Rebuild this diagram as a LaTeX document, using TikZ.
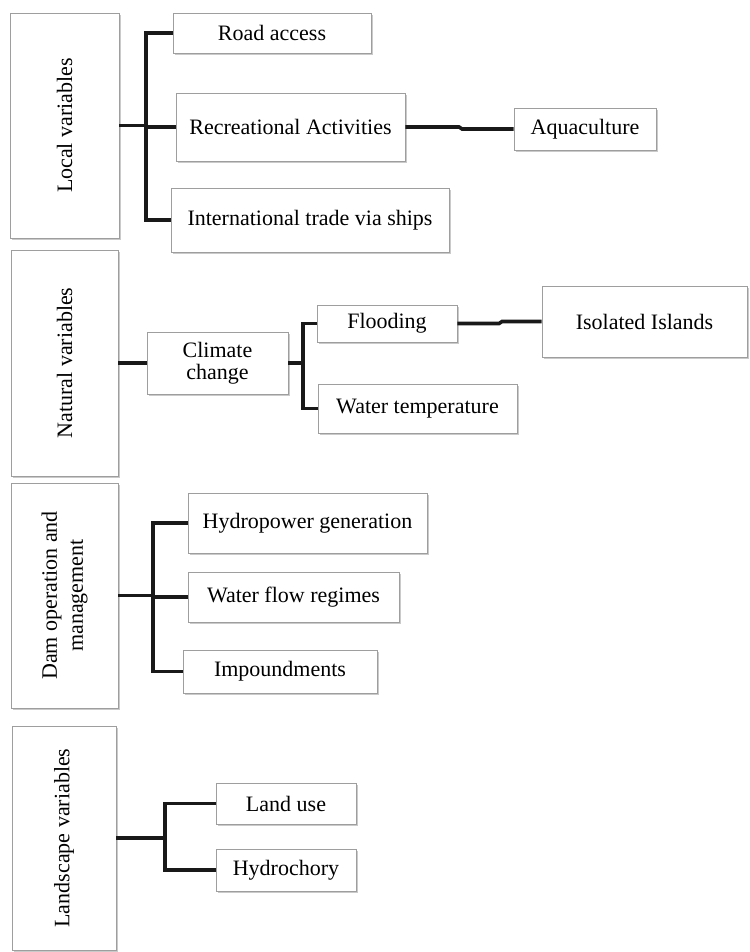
\documentclass[tikz,border=0pt]{standalone}
\usepackage{fontspec}
\setmainfont{Liberation Serif}
\usetikzlibrary{shadows}
\begin{document}
\begin{tikzpicture}[x=1pt,y=-1pt,
  box/.style={draw=black!38,line width=0.8pt,fill=white,inner sep=0pt,
    drop shadow={shadow xshift=1.6pt,shadow yshift=-1.6pt,opacity=0.35,fill=black!60},
    font=\fontsize{22}{25}\selectfont,align=center},
  vtext/.style={rotate=90,font=\fontsize{22}{25}\selectfont,align=center,inner sep=0pt},
  conn/.style={line width=3.6pt,black!90}]
\useasboundingbox (0,0) rectangle (749,952);
% boxes
\node[box,minimum width=109,minimum height=225] (local) at (64.5,125.5) {};
\node[vtext] (localt) at (local.center) {Local variables};
\node[box,minimum width=198,minimum height=40] (road) at (272,33) {Road access};
\node[box,minimum width=229,minimum height=68] (rec) at (290.5,127) {Recreational Activities};
\node[box,minimum width=278,minimum height=64] (intl) at (310,220) {International trade via ships};
\node[box,minimum width=142,minimum height=42] (aqua) at (585,129) {Aquaculture};

\node[box,minimum width=107,minimum height=226] (natural) at (64.5,363) {};
\node[vtext] (naturalt) at (natural.center) {Natural variables};
\node[box,minimum width=141,minimum height=62] (climate) at (217.5,363) {Climate\\[-3pt]change};
\node[box,minimum width=140,minimum height=37] (flood) at (387,323.5) {Flooding};
\node[box,minimum width=199,minimum height=49] (wtemp) at (417.5,408.5) {Water temperature};
\node[box,minimum width=205,minimum height=71] (isol) at (644.5,321.5) {Isolated Islands};

\node[box,minimum width=107,minimum height=225] (dam) at (64.5,595.5) {};
\node[vtext] (damt) at (dam.center) {Dam operation and\\[1pt]management};
\node[box,minimum width=239,minimum height=60] (hydro) at (307.5,523) {Hydropower generation};
\node[box,minimum width=211,minimum height=50] (wflow) at (293.5,597) {Water flow regimes};
\node[box,minimum width=194,minimum height=43] (imp) at (280,671.5) {Impoundments};

\node[box,minimum width=104,minimum height=224] (land) at (64,838) {};
\node[vtext] (landt) at (land.center) {Landscape variables};
\node[box,minimum width=140,minimum height=41] (landuse) at (286,803.5) {Land use};
\node[box,minimum width=140,minimum height=42] (hydroch) at (286,870) {Hydrochory};

% connectors
\coordinate (b1) at (146,125.5);
\draw[conn] (local.east) -- (b1);
\draw[conn] (b1) |- (road.west);
\draw[conn] (b1) |- (rec.west);
\draw[conn] (b1) |- (intl.west);
\coordinate (j1) at (459,127);
\coordinate (j2) at (462,129);
\draw[conn] (rec.east) -- (j1) -- (j2) -- (aqua.west);

\draw[conn] (natural.east) -- (climate.west);
\coordinate (b2) at (303,363);
\draw[conn] (climate.east) -- (b2);
\draw[conn] (b2) |- (flood.west);
\draw[conn] (b2) |- (wtemp.west);
\coordinate (j3) at (499,323.5);
\coordinate (j4) at (502,321.5);
\draw[conn] (flood.east) -- (j3) -- (j4) -- (isol.west);

\coordinate (b3) at (153,595.5);
\draw[conn] (dam.east) -- (b3);
\draw[conn] (b3) |- (hydro.west);
\draw[conn] (b3) |- (wflow.west);
\draw[conn] (b3) |- (imp.west);

\coordinate (b4) at (165,838);
\draw[conn] (land.east) -- (b4);
\draw[conn] (b4) |- (landuse.west);
\draw[conn] (b4) |- (hydroch.west);
\end{tikzpicture}
\end{document}
